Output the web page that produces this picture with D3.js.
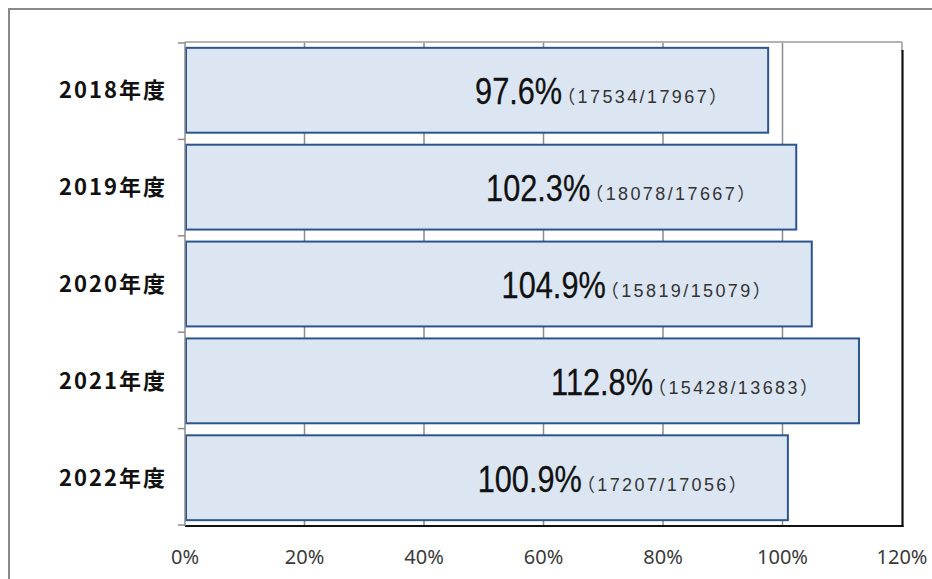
<!DOCTYPE html>
<html>
<head>
<meta charset="utf-8">
<script src="https://cdn.jsdelivr.net/npm/d3@7/dist/d3.min.js"></script>
<style>
  html, body { margin: 0; padding: 0; background: #fff; }
  svg { display: block; }
</style>
</head>
<body>
<svg id="chart" width="932" height="579"></svg>
<script>
// Achievement rate per fiscal year (actual / target)
const years = ["2018年度", "2019年度", "2020年度", "2021年度", "2022年度"];
const rates = [97.6, 102.3, 104.9, 112.8, 100.9];
const actuals = [17534, 18078, 15819, 15428, 17207];
const targets = [17967, 17667, 15079, 13683, 17056];
const xTicks = [0, 20, 40, 60, 80, 100, 120];

const svg = d3.select("#chart");
const W = 932, H = 579;
const plot = { left: 185, right: 902, top: 43, bottom: 525 };

svg.append("rect").attr("width", W).attr("height", H).attr("fill", "#fff");

// outer chart frame
svg.append("rect")
  .attr("x", 9).attr("y", 9)
  .attr("width", W + 20).attr("height", H + 20)
  .attr("fill", "none").attr("stroke", "#8a8a8a").attr("stroke-width", 2);

const x = d3.scaleLinear().domain([0, 120]).range([plot.left, plot.right]);
const y = d3.scaleBand().domain(years).range([plot.top, plot.bottom])
  .paddingInner(0.124).paddingOuter(0.05);

// vertical gridlines
svg.append("g").selectAll("line")
  .data(xTicks.filter(t => t > 0 && t < 120))
  .join("line")
  .attr("x1", d => x(d)).attr("x2", d => x(d))
  .attr("y1", plot.top).attr("y2", plot.bottom)
  .attr("stroke", "#8c8c8c").attr("stroke-width", 1.5);

// top edge of plot area
svg.append("line")
  .attr("x1", plot.left).attr("x2", plot.right)
  .attr("y1", plot.top - 1).attr("y2", plot.top - 1)
  .attr("stroke", "#9a9a9a").attr("stroke-width", 1.5);
svg.append("line")
  .attr("x1", plot.right).attr("x2", plot.right)
  .attr("y1", plot.top - 1).attr("y2", plot.top + 8)
  .attr("stroke", "#9a9a9a").attr("stroke-width", 1.5);

// right and bottom edges drawn dark
svg.append("line")
  .attr("x1", plot.right + 0.5).attr("x2", plot.right + 0.5)
  .attr("y1", plot.top + 7).attr("y2", plot.bottom + 2)
  .attr("stroke", "#111").attr("stroke-width", 2.2);

// bars
svg.append("g").selectAll("rect")
  .data(years)
  .join("rect")
  .attr("x", x(0) + 1)
  .attr("y", d => y(d))
  .attr("width", (d, i) => x(rates[i]) - x(0) - 1)
  .attr("height", y.bandwidth())
  .attr("fill", "#dce6f2")
  .attr("stroke", "#2c558c")
  .attr("stroke-width", 2);

svg.append("line")
  .attr("x1", plot.left).attr("x2", plot.right + 1.5)
  .attr("y1", plot.bottom + 1).attr("y2", plot.bottom + 1)
  .attr("stroke", "#111").attr("stroke-width", 2.2);

// category axis on the left, ticks at band boundaries
const yAxis = svg.append("g");
yAxis.append("line")
  .attr("x1", plot.left).attr("x2", plot.left)
  .attr("y1", plot.top - 1).attr("y2", plot.bottom + 1)
  .attr("stroke", "#8c8c8c").attr("stroke-width", 1.5);
const boundaries = d3.range(years.length + 1).map(i => plot.top + i * (plot.bottom - plot.top) / years.length);
yAxis.selectAll("line.tick")
  .data(boundaries)
  .join("line")
  .attr("class", "tick")
  .attr("x1", plot.left - 7).attr("x2", plot.left)
  .attr("y1", d => d).attr("y2", d => d)
  .attr("stroke", "#8c8c8c").attr("stroke-width", 1.5);

yAxis.selectAll("text")
  .data(years)
  .join("text")
  .attr("x", 167)
  .attr("y", d => y(d) + y.bandwidth() / 2 + 8)
  .attr("text-anchor", "end")
  .attr("font-family", "'Noto Sans CJK JP', 'Liberation Sans', sans-serif")
  .attr("font-weight", "bold")
  .attr("font-size", 22)
  .attr("letter-spacing", 2)
  .attr("fill", "#111")
  .text(d => d);

// x axis labels
svg.append("g").selectAll("text")
  .data(xTicks)
  .join("text")
  .attr("x", d => x(d))
  .attr("y", 564)
  .attr("text-anchor", "middle")
  .attr("font-family", "'Noto Sans', 'Open Sans', sans-serif")
  .attr("font-size", 20)
  .attr("fill", "#3a3a3a")
  .text(d => d + "%");

// value labels inside bars: large rate, then (actual/target)
const labels = svg.append("g").selectAll("g")
  .data(years)
  .join("g")
  .attr("transform", (d, i) =>
    `translate(${x(rates[i]) - 206},${y(d) + y.bandwidth() / 2 + 14})`);

labels.append("text")
  .attr("transform", "scale(0.83,1)")
  .attr("text-anchor", "end")
  .attr("font-family", "'Liberation Sans', sans-serif")
  .attr("font-size", 37)
  .attr("fill", "#111")
  .attr("stroke", "#111")
  .attr("stroke-width", 0.3)
  .text((d, i) => rates[i].toFixed(1) + "%");

labels.append("text")
  .attr("x", -5)
  .attr("y", -1)
  .attr("text-anchor", "start")
  .attr("font-family", "'Liberation Sans', 'Noto Sans CJK JP', sans-serif")
  .attr("font-size", 18)
  .attr("letter-spacing", 2.4)
  .attr("fill", "#333")
  .text((d, i) => "（" + actuals[i] + "/" + targets[i] + "）");
</script>
</body>
</html>
